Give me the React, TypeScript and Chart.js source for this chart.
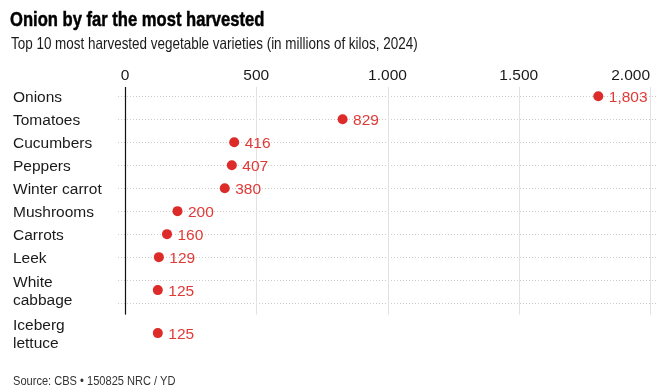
import React, { useEffect, useRef } from 'react';
import { Chart, registerables } from 'chart.js';

Chart.register(...registerables);

const TITLE = 'Onion by far the most harvested';
const SUBTITLE = 'Top 10 most harvested vegetable varieties (in millions of kilos, 2024)';
const SOURCE = 'Source: CBS \u2022 150825 NRC / YD';

const categories: (string | string[])[] = [
  'Onions',
  'Tomatoes',
  'Cucumbers',
  'Peppers',
  'Winter carrot',
  'Mushrooms',
  'Carrots',
  'Leek',
  ['White', 'cabbage'],
  ['Iceberg', 'lettuce'],
];
const values = [1803, 829, 416, 407, 380, 200, 160, 129, 125, 125];
const xTickValues = [0, 500, 1000, 1500, 2000];
const xTickLabels = ['0', '500', '1.000', '1.500', '2.000'];

const RED_DOT = '#dc2b28';
const RED_TEXT = '#e03a37';
const LABEL_FONT = '"Liberation Sans", Arial, sans-serif';

// row layout in "line units": a single-line row is 1 unit; each extra label line adds a bit
const EXTRA_LINE = 20 / 23;
const lineCount = (c: string | string[]) => (Array.isArray(c) ? c.length : 1);
const rowCenters: number[] = [];
{
  let acc = 0;
  categories.forEach((c, i) => {
    const h = 1 + (lineCount(c) - 1) * EXTRA_LINE;
    if (i === 0) {
      rowCenters.push(0);
      acc = h / 2;
    } else {
      rowCenters.push(acc + h / 2);
      acc += h;
    }
  });
}

const guidesPlugin = {
  id: 'guides',
  beforeDatasetsDraw(chart: any) {
    const { ctx, chartArea, scales } = chart;
    const x = scales.x;
    const y = scales.y;
    ctx.save();
    // dotted row guides
    ctx.strokeStyle = '#cdcdcd';
    ctx.lineWidth = 1;
    ctx.setLineDash([1, 2]);
    for (let i = 0; i < categories.length; i++) {
      const py = Math.round(y.getPixelForValue(i)) + 0.5;
      ctx.beginPath();
      ctx.moveTo(chartArea.left - 7, py);
      ctx.lineTo(chartArea.right + 6, py);
      ctx.stroke();
    }
    ctx.setLineDash([]);
    const top = chartArea.top;
    const bottom = y.getPixelForValue(categories.length - 0.5);
    xTickValues.forEach((v) => {
      const px = Math.round(x.getPixelForValue(v)) + 0.5;
      ctx.strokeStyle = v === 0 ? '#111111' : '#e2e2e2';
      ctx.lineWidth = v === 0 ? 1.2 : 1;
      ctx.beginPath();
      ctx.moveTo(px, top);
      ctx.lineTo(px, bottom);
      ctx.stroke();
    });
    // x tick labels
    ctx.fillStyle = '#1a1a1a';
    ctx.font = `15.5px ${LABEL_FONT}`;
    ctx.textBaseline = 'alphabetic';
    xTickValues.forEach((v, i) => {
      const px = x.getPixelForValue(v);
      ctx.textAlign = i === xTickValues.length - 1 ? 'right' : 'center';
      ctx.fillText(xTickLabels[i], px, 79.5);
    });
    ctx.restore();
  },
  afterDatasetsDraw(chart: any) {
    const { ctx } = chart;
    const meta = chart.getDatasetMeta(0);
    ctx.save();
    ctx.fillStyle = RED_TEXT;
    ctx.font = `15.5px ${LABEL_FONT}`;
    ctx.textAlign = 'left';
    ctx.textBaseline = 'alphabetic';
    meta.data.forEach((pt: any, i: number) => {
      ctx.fillText(values[i].toLocaleString('en-US'), pt.x + 10.5, pt.y + 5.6);
    });
    ctx.restore();
  },
};

const narrowText = (scale: number): React.CSSProperties => ({
  position: 'absolute',
  fontFamily: LABEL_FONT,
  whiteSpace: 'nowrap',
  transform: `scaleX(${scale})`,
  transformOrigin: 'left top',
});

export default function App() {
  const canvasRef = useRef<HTMLCanvasElement | null>(null);

  useEffect(() => {
    if (!canvasRef.current) return;
    const chart = new Chart(canvasRef.current, {
      type: 'scatter',
      data: {
        datasets: [
          {
            data: values.map((v, i) => ({ x: v, y: rowCenters[i] })),
            backgroundColor: RED_DOT,
            borderWidth: 0,
            pointRadius: 5,
            pointHoverRadius: 5,
          },
        ],
      },
      options: {
        animation: false,
        responsive: false,
        events: [],
        layout: { padding: { left: 13, right: 16, top: 87, bottom: 35 } },
        plugins: { legend: { display: false }, tooltip: { enabled: false }, title: { display: false } },
        scales: {
          x: {
            type: 'linear',
            position: 'top',
            min: 0,
            max: 2000,
            ticks: { display: false, stepSize: 500 },
            grid: { display: false },
            border: { display: false },
            afterFit: (s: any) => {
              s.height = 0;
            },
          },
          y: {
            type: 'linear',
            reverse: true,
            min: -0.4,
            max: 11.3,
            bounds: 'data',
            grid: { display: false },
            border: { display: false },
            afterBuildTicks: (s: any) => {
              s.ticks = rowCenters.map((v) => ({ value: v }));
            },
            ticks: {
              autoSkip: false,
              crossAlign: 'far',
              labelOffset: 1.5,
              color: '#1a1a1a',
              font: { family: LABEL_FONT, size: 15.5, lineHeight: 1.19 },
              callback: (_v: any, index: number) => categories[index],
            },
            afterFit: (s: any) => {
              s.width = 112;
            },
          },
        },
      },
      plugins: [guidesPlugin],
    } as any);
    return () => chart.destroy();
  }, []);

  return (
    <div style={{ position: 'absolute', left: 0, top: 0, width: 666, height: 391, background: '#fff', overflow: 'hidden' }}>
      <canvas ref={canvasRef} width={666} height={391} style={{ position: 'absolute', left: 0, top: 0 }} />
      <div
        style={{
          ...narrowText(0.79),
          left: 10,
          top: 7.5,
          fontWeight: 700,
          fontSize: 21,
          lineHeight: '21px',
          color: '#000',
          WebkitTextStroke: '0.5px #000',
        }}
      >
        {TITLE}
      </div>
      <div
        style={{
          ...narrowText(0.815),
          left: 10.5,
          top: 35,
          fontSize: 16.5,
          lineHeight: '16.5px',
          color: '#1a1a1a',
        }}
      >
        {SUBTITLE}
      </div>
      <div
        style={{
          ...narrowText(0.82),
          left: 13,
          top: 373.6,
          fontSize: 13.5,
          lineHeight: '13.5px',
          color: '#333',
        }}
      >
        {SOURCE}
      </div>
    </div>
  );
}
